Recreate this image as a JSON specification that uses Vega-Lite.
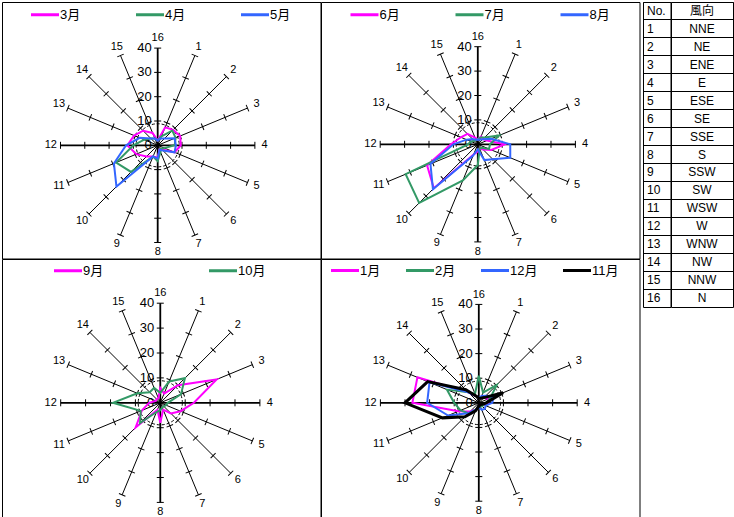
{
  "$schema": "https://vega.github.io/schema/vega-lite/v6.json",
  "padding": {"left": 1, "top": 1, "right": 0, "bottom": 0},
  "datasets": {
    "dirs": [
      {"dir": 1, "ticks": [10, 20, 30, 40]}, {"dir": 2, "ticks": [10, 20, 30, 40]},
      {"dir": 3, "ticks": [10, 20, 30, 40]}, {"dir": 4, "ticks": [10, 20, 30, 40]},
      {"dir": 5, "ticks": [10, 20, 30, 40]}, {"dir": 6, "ticks": [10, 20, 30, 40]},
      {"dir": 7, "ticks": [10, 20, 30, 40]}, {"dir": 8, "ticks": [10, 20, 30, 40]},
      {"dir": 9, "ticks": [10, 20, 30, 40]}, {"dir": 10, "ticks": [10, 20, 30, 40]},
      {"dir": 11, "ticks": [10, 20, 30, 40]}, {"dir": 12, "ticks": [10, 20, 30, 40]},
      {"dir": 13, "ticks": [10, 20, 30, 40]}, {"dir": 14, "ticks": [10, 20, 30, 40]},
      {"dir": 15, "ticks": [10, 20, 30, 40]}, {"dir": 16, "ticks": [10, 20, 30, 40]}
    ],
    "rings": [{"r": 0}, {"r": 10}, {"r": 20}, {"r": 30}, {"r": 40}],
    "wind": [
      {"panel": "A", "month": "3月", "dir": 1, "v": 8}, {"panel": "A", "month": "3月", "dir": 2, "v": 9},
      {"panel": "A", "month": "3月", "dir": 3, "v": 10}, {"panel": "A", "month": "3月", "dir": 4, "v": 9.5},
      {"panel": "A", "month": "3月", "dir": 5, "v": 7.5}, {"panel": "A", "month": "3月", "dir": 6, "v": 2.5},
      {"panel": "A", "month": "3月", "dir": 7, "v": 2}, {"panel": "A", "month": "3月", "dir": 8, "v": 5},
      {"panel": "A", "month": "3月", "dir": 9, "v": 5}, {"panel": "A", "month": "3月", "dir": 10, "v": 6.5},
      {"panel": "A", "month": "3月", "dir": 11, "v": 9.5}, {"panel": "A", "month": "3月", "dir": 12, "v": 12.5},
      {"panel": "A", "month": "3月", "dir": 13, "v": 10.5}, {"panel": "A", "month": "3月", "dir": 14, "v": 8.5},
      {"panel": "A", "month": "3月", "dir": 15, "v": 5.5}, {"panel": "A", "month": "3月", "dir": 16, "v": 2},
      {"panel": "A", "month": "4月", "dir": 1, "v": 4}, {"panel": "A", "month": "4月", "dir": 2, "v": 8.5},
      {"panel": "A", "month": "4月", "dir": 3, "v": 8}, {"panel": "A", "month": "4月", "dir": 4, "v": 7},
      {"panel": "A", "month": "4月", "dir": 5, "v": 3}, {"panel": "A", "month": "4月", "dir": 6, "v": 2},
      {"panel": "A", "month": "4月", "dir": 7, "v": 3}, {"panel": "A", "month": "4月", "dir": 8, "v": 6.5},
      {"panel": "A", "month": "4月", "dir": 9, "v": 5}, {"panel": "A", "month": "4月", "dir": 10, "v": 15.5},
      {"panel": "A", "month": "4月", "dir": 11, "v": 18.5}, {"panel": "A", "month": "4月", "dir": 12, "v": 10},
      {"panel": "A", "month": "4月", "dir": 13, "v": 6}, {"panel": "A", "month": "4月", "dir": 14, "v": 4},
      {"panel": "A", "month": "4月", "dir": 15, "v": 3}, {"panel": "A", "month": "4月", "dir": 16, "v": 2},
      {"panel": "A", "month": "5月", "dir": 1, "v": 3}, {"panel": "A", "month": "5月", "dir": 2, "v": 4},
      {"panel": "A", "month": "5月", "dir": 3, "v": 7.5}, {"panel": "A", "month": "5月", "dir": 4, "v": 7.5},
      {"panel": "A", "month": "5月", "dir": 5, "v": 7.5}, {"panel": "A", "month": "5月", "dir": 6, "v": 3},
      {"panel": "A", "month": "5月", "dir": 7, "v": 2}, {"panel": "A", "month": "5月", "dir": 8, "v": 5.5},
      {"panel": "A", "month": "5月", "dir": 9, "v": 5}, {"panel": "A", "month": "5月", "dir": 10, "v": 24},
      {"panel": "A", "month": "5月", "dir": 11, "v": 19.5}, {"panel": "A", "month": "5月", "dir": 12, "v": 13},
      {"panel": "A", "month": "5月", "dir": 13, "v": 8}, {"panel": "A", "month": "5月", "dir": 14, "v": 4},
      {"panel": "A", "month": "5月", "dir": 15, "v": 3}, {"panel": "A", "month": "5月", "dir": 16, "v": 2},
      {"panel": "B", "month": "6月", "dir": 1, "v": 3.5}, {"panel": "B", "month": "6月", "dir": 2, "v": 3},
      {"panel": "B", "month": "6月", "dir": 3, "v": 4}, {"panel": "B", "month": "6月", "dir": 4, "v": 11},
      {"panel": "B", "month": "6月", "dir": 5, "v": 6}, {"panel": "B", "month": "6月", "dir": 6, "v": 3},
      {"panel": "B", "month": "6月", "dir": 7, "v": 2}, {"panel": "B", "month": "6月", "dir": 8, "v": 3},
      {"panel": "B", "month": "6月", "dir": 9, "v": 4.5}, {"panel": "B", "month": "6月", "dir": 10, "v": 25.5},
      {"panel": "B", "month": "6月", "dir": 11, "v": 22.5}, {"panel": "B", "month": "6月", "dir": 12, "v": 11},
      {"panel": "B", "month": "6月", "dir": 13, "v": 7.5}, {"panel": "B", "month": "6月", "dir": 14, "v": 6},
      {"panel": "B", "month": "6月", "dir": 15, "v": 3}, {"panel": "B", "month": "6月", "dir": 16, "v": 2},
      {"panel": "B", "month": "7月", "dir": 1, "v": 3}, {"panel": "B", "month": "7月", "dir": 2, "v": 4},
      {"panel": "B", "month": "7月", "dir": 3, "v": 9.5}, {"panel": "B", "month": "7月", "dir": 4, "v": 5},
      {"panel": "B", "month": "7月", "dir": 5, "v": 5}, {"panel": "B", "month": "7月", "dir": 6, "v": 2},
      {"panel": "B", "month": "7月", "dir": 7, "v": 2}, {"panel": "B", "month": "7月", "dir": 8, "v": 8.5},
      {"panel": "B", "month": "7月", "dir": 9, "v": 16}, {"panel": "B", "month": "7月", "dir": 10, "v": 34},
      {"panel": "B", "month": "7月", "dir": 11, "v": 32}, {"panel": "B", "month": "7月", "dir": 12, "v": 4},
      {"panel": "B", "month": "7月", "dir": 13, "v": 3}, {"panel": "B", "month": "7月", "dir": 14, "v": 2},
      {"panel": "B", "month": "7月", "dir": 15, "v": 2}, {"panel": "B", "month": "7月", "dir": 16, "v": 2},
      {"panel": "B", "month": "8月", "dir": 1, "v": 2}, {"panel": "B", "month": "8月", "dir": 2, "v": 3},
      {"panel": "B", "month": "8月", "dir": 3, "v": 6}, {"panel": "B", "month": "8月", "dir": 4, "v": 13.3},
      {"panel": "B", "month": "8月", "dir": 5, "v": 14.4}, {"panel": "B", "month": "8月", "dir": 6, "v": 8.6},
      {"panel": "B", "month": "8月", "dir": 7, "v": 7}, {"panel": "B", "month": "8月", "dir": 8, "v": 2},
      {"panel": "B", "month": "8月", "dir": 9, "v": 5}, {"panel": "B", "month": "8月", "dir": 10, "v": 26},
      {"panel": "B", "month": "8月", "dir": 11, "v": 21}, {"panel": "B", "month": "8月", "dir": 12, "v": 10},
      {"panel": "B", "month": "8月", "dir": 13, "v": 5}, {"panel": "B", "month": "8月", "dir": 14, "v": 3},
      {"panel": "B", "month": "8月", "dir": 15, "v": 2}, {"panel": "B", "month": "8月", "dir": 16, "v": 2},
      {"panel": "C", "month": "9月", "dir": 1, "v": 4}, {"panel": "C", "month": "9月", "dir": 2, "v": 10},
      {"panel": "C", "month": "9月", "dir": 3, "v": 24.5}, {"panel": "C", "month": "9月", "dir": 4, "v": 13.5},
      {"panel": "C", "month": "9月", "dir": 5, "v": 8.8}, {"panel": "C", "month": "9月", "dir": 6, "v": 6},
      {"panel": "C", "month": "9月", "dir": 7, "v": 3}, {"panel": "C", "month": "9月", "dir": 8, "v": 8},
      {"panel": "C", "month": "9月", "dir": 9, "v": 3}, {"panel": "C", "month": "9月", "dir": 10, "v": 14},
      {"panel": "C", "month": "9月", "dir": 11, "v": 8}, {"panel": "C", "month": "9月", "dir": 12, "v": 4.5},
      {"panel": "C", "month": "9月", "dir": 13, "v": 2}, {"panel": "C", "month": "9月", "dir": 14, "v": 2},
      {"panel": "C", "month": "9月", "dir": 15, "v": 2}, {"panel": "C", "month": "9月", "dir": 16, "v": 6},
      {"panel": "C", "month": "10月", "dir": 1, "v": 9.3}, {"panel": "C", "month": "10月", "dir": 2, "v": 14},
      {"panel": "C", "month": "10月", "dir": 3, "v": 9}, {"panel": "C", "month": "10月", "dir": 4, "v": 3},
      {"panel": "C", "month": "10月", "dir": 5, "v": 2.5}, {"panel": "C", "month": "10月", "dir": 6, "v": 2},
      {"panel": "C", "month": "10月", "dir": 7, "v": 2}, {"panel": "C", "month": "10月", "dir": 8, "v": 3},
      {"panel": "C", "month": "10月", "dir": 9, "v": 4}, {"panel": "C", "month": "10月", "dir": 10, "v": 11.5},
      {"panel": "C", "month": "10月", "dir": 11, "v": 8.5}, {"panel": "C", "month": "10月", "dir": 12, "v": 19},
      {"panel": "C", "month": "10月", "dir": 13, "v": 10}, {"panel": "C", "month": "10月", "dir": 14, "v": 6},
      {"panel": "C", "month": "10月", "dir": 15, "v": 6.5}, {"panel": "C", "month": "10月", "dir": 16, "v": 4},
      {"panel": "D", "month": "1月", "dir": 1, "v": 2}, {"panel": "D", "month": "1月", "dir": 2, "v": 3},
      {"panel": "D", "month": "1月", "dir": 3, "v": 4}, {"panel": "D", "month": "1月", "dir": 4, "v": 4},
      {"panel": "D", "month": "1月", "dir": 5, "v": 2}, {"panel": "D", "month": "1月", "dir": 6, "v": 1},
      {"panel": "D", "month": "1月", "dir": 7, "v": 1}, {"panel": "D", "month": "1月", "dir": 8, "v": 2},
      {"panel": "D", "month": "1月", "dir": 9, "v": 3}, {"panel": "D", "month": "1月", "dir": 10, "v": 5},
      {"panel": "D", "month": "1月", "dir": 11, "v": 9}, {"panel": "D", "month": "1月", "dir": 12, "v": 27},
      {"panel": "D", "month": "1月", "dir": 13, "v": 27}, {"panel": "D", "month": "1月", "dir": 14, "v": 6},
      {"panel": "D", "month": "1月", "dir": 15, "v": 3}, {"panel": "D", "month": "1月", "dir": 16, "v": 2},
      {"panel": "D", "month": "2月", "dir": 1, "v": 4.5}, {"panel": "D", "month": "2月", "dir": 2, "v": 10.3},
      {"panel": "D", "month": "2月", "dir": 3, "v": 5}, {"panel": "D", "month": "2月", "dir": 4, "v": 3},
      {"panel": "D", "month": "2月", "dir": 5, "v": 2}, {"panel": "D", "month": "2月", "dir": 6, "v": 2},
      {"panel": "D", "month": "2月", "dir": 7, "v": 1.5}, {"panel": "D", "month": "2月", "dir": 8, "v": 2},
      {"panel": "D", "month": "2月", "dir": 9, "v": 3}, {"panel": "D", "month": "2月", "dir": 10, "v": 6},
      {"panel": "D", "month": "2月", "dir": 11, "v": 8}, {"panel": "D", "month": "2月", "dir": 12, "v": 10},
      {"panel": "D", "month": "2月", "dir": 13, "v": 14}, {"panel": "D", "month": "2月", "dir": 14, "v": 6},
      {"panel": "D", "month": "2月", "dir": 15, "v": 4}, {"panel": "D", "month": "2月", "dir": 16, "v": 11},
      {"panel": "D", "month": "12月", "dir": 1, "v": 3}, {"panel": "D", "month": "12月", "dir": 2, "v": 4},
      {"panel": "D", "month": "12月", "dir": 3, "v": 6.5}, {"panel": "D", "month": "12月", "dir": 4, "v": 5.5},
      {"panel": "D", "month": "12月", "dir": 5, "v": 3}, {"panel": "D", "month": "12月", "dir": 6, "v": 3.5},
      {"panel": "D", "month": "12月", "dir": 7, "v": 3}, {"panel": "D", "month": "12月", "dir": 8, "v": 2},
      {"panel": "D", "month": "12月", "dir": 9, "v": 3}, {"panel": "D", "month": "12月", "dir": 10, "v": 6},
      {"panel": "D", "month": "12月", "dir": 11, "v": 13.5}, {"panel": "D", "month": "12月", "dir": 12, "v": 21},
      {"panel": "D", "month": "12月", "dir": 13, "v": 21.7}, {"panel": "D", "month": "12月", "dir": 14, "v": 6},
      {"panel": "D", "month": "12月", "dir": 15, "v": 3}, {"panel": "D", "month": "12月", "dir": 16, "v": 2},
      {"panel": "D", "month": "11月", "dir": 1, "v": 2}, {"panel": "D", "month": "11月", "dir": 2, "v": 3},
      {"panel": "D", "month": "11月", "dir": 3, "v": 10.7}, {"panel": "D", "month": "11月", "dir": 4, "v": 3},
      {"panel": "D", "month": "11月", "dir": 5, "v": 1.5}, {"panel": "D", "month": "11月", "dir": 6, "v": 1},
      {"panel": "D", "month": "11月", "dir": 7, "v": 1}, {"panel": "D", "month": "11月", "dir": 8, "v": 1.5},
      {"panel": "D", "month": "11月", "dir": 9, "v": 3.5}, {"panel": "D", "month": "11月", "dir": 10, "v": 8},
      {"panel": "D", "month": "11月", "dir": 11, "v": 16}, {"panel": "D", "month": "11月", "dir": 12, "v": 30},
      {"panel": "D", "month": "11月", "dir": 13, "v": 22.5}, {"panel": "D", "month": "11月", "dir": 14, "v": 7.5},
      {"panel": "D", "month": "11月", "dir": 15, "v": 3}, {"panel": "D", "month": "11月", "dir": 16, "v": 2}
    ],
    "table": [
      {"row": 0, "no": "No.", "name": "風向"},
      {"row": 1, "no": "1", "name": "NNE"}, {"row": 2, "no": "2", "name": "NE"},
      {"row": 3, "no": "3", "name": "ENE"}, {"row": 4, "no": "4", "name": "E"},
      {"row": 5, "no": "5", "name": "ESE"}, {"row": 6, "no": "6", "name": "SE"},
      {"row": 7, "no": "7", "name": "SSE"}, {"row": 8, "no": "8", "name": "S"},
      {"row": 9, "no": "9", "name": "SSW"}, {"row": 10, "no": "10", "name": "SW"},
      {"row": 11, "no": "11", "name": "WSW"}, {"row": 12, "no": "12", "name": "W"},
      {"row": 13, "no": "13", "name": "WNW"}, {"row": 14, "no": "14", "name": "NW"},
      {"row": 15, "no": "15", "name": "NNW"}, {"row": 16, "no": "16", "name": "N"}
    ]
  },
  "hconcat": [
    {
      "vconcat": [
        {
          "hconcat": [
            {
              "width": 318.5,
              "height": 256.5,
              "encoding": {
                "x": {"field": "px", "type": "quantitative", "axis": null, "scale": {"domain": [-64.07, 67.0], "nice": false, "zero": false}},
                "y": {"field": "py", "type": "quantitative", "axis": null, "scale": {"domain": [-46.58, 58.97], "nice": false, "zero": false}}
              },
              "layer": [
                {"data": {"name": "rings"}, "transform": [{"filter": "datum.r == 0"}], "mark": {"type": "rule", "color": "black"}, "encoding": {"x": {"value": 0}, "x2": {"value": "width"}, "y": {"datum": 49.09}}},
                {"data": {"name": "dirs"}, "transform": [{"calculate": "40 * sin(datum.dir * PI / 8)", "as": "px"}, {"calculate": "40 * cos(datum.dir * PI / 8)", "as": "py"}], "mark": {"type": "rule", "color": "black"}, "encoding": {"x2": {"datum": 0}, "y2": {"datum": 0}, "strokeWidth": {"condition": {"test": "datum.dir % 4 == 0", "value": 1.8}, "value": 1}}},
                {"data": {"name": "dirs"}, "transform": [{"flatten": ["ticks"]}, {"calculate": "datum.ticks * sin(datum.dir * PI / 8)", "as": "px"}, {"calculate": "datum.ticks * cos(datum.dir * PI / 8)", "as": "py"}, {"calculate": "datum.dir * 22.5", "as": "ang"}], "mark": {"type": "point", "shape": "stroke", "size": 49, "color": "black", "filled": false, "opacity": 1, "strokeWidth": 1}, "encoding": {"angle": {"field": "ang", "type": "quantitative", "scale": null}}},
                {"data": {"name": "rings"}, "transform": [{"filter": "datum.r == 10"}, {"calculate": "0", "as": "px"}, {"calculate": "0", "as": "py"}], "mark": {"type": "point", "shape": "circle", "size": 1860, "color": "black", "filled": false, "opacity": 1, "strokeWidth": 1, "strokeDash": [3, 2]}},
                {"data": {"name": "dirs"}, "transform": [{"calculate": "44 * sin(datum.dir * PI / 8)", "as": "px"}, {"calculate": "44 * cos(datum.dir * PI / 8)", "as": "py"}], "mark": {"type": "text", "fontSize": 11, "align": "center", "baseline": "middle", "color": "black"}, "encoding": {"text": {"field": "dir"}}},
                {"data": {"name": "rings"}, "transform": [{"calculate": "0", "as": "px"}, {"calculate": "datum.r", "as": "py"}], "mark": {"type": "text", "fontSize": 13, "align": "right", "baseline": "middle", "dx": -6, "color": "black"}, "encoding": {"text": {"field": "r"}}},
                {
                  "data": {"name": "wind"},
                  "transform": [{"filter": "datum.panel == 'A'"}, {"calculate": "datum.v * sin(datum.dir * PI / 8)", "as": "px"}, {"calculate": "datum.v * cos(datum.dir * PI / 8)", "as": "py"}],
                  "mark": {"type": "line", "interpolate": "linear-closed", "strokeWidth": 2},
                  "encoding": {
                    "order": {"field": "dir", "type": "quantitative"},
                    "color": {"field": "month", "type": "nominal", "scale": {"domain": ["3月", "4月", "5月"], "range": ["#FF00FF", "#339966", "#3366FF"]}, "legend": {"title": null, "orient": "none", "symbolType": "M-2,0H2", "legendX": 34.5, "legendY": 4, "columns": 3, "columnPadding": 49}}
                  }
                }
              ]
            },
            {
              "width": 318.5,
              "height": 256.5,
              "encoding": {
                "x": {"field": "px", "type": "quantitative", "axis": null, "scale": {"domain": [-64.26, 66.27], "nice": false, "zero": false}},
                "y": {"field": "py", "type": "quantitative", "axis": null, "scale": {"domain": [-46.8, 58.32], "nice": false, "zero": false}}
              },
              "layer": [
                {"data": {"name": "rings"}, "transform": [{"filter": "datum.r == 0"}], "mark": {"type": "rule", "color": "black"}, "encoding": {"x": {"value": 0}, "x2": {"value": "width"}, "y": {"datum": 48.48}}},
                {"data": {"name": "dirs"}, "transform": [{"calculate": "40 * sin(datum.dir * PI / 8)", "as": "px"}, {"calculate": "40 * cos(datum.dir * PI / 8)", "as": "py"}], "mark": {"type": "rule", "color": "black"}, "encoding": {"x2": {"datum": 0}, "y2": {"datum": 0}, "strokeWidth": {"condition": {"test": "datum.dir % 4 == 0", "value": 1.8}, "value": 1}}},
                {"data": {"name": "dirs"}, "transform": [{"flatten": ["ticks"]}, {"calculate": "datum.ticks * sin(datum.dir * PI / 8)", "as": "px"}, {"calculate": "datum.ticks * cos(datum.dir * PI / 8)", "as": "py"}, {"calculate": "datum.dir * 22.5", "as": "ang"}], "mark": {"type": "point", "shape": "stroke", "size": 49, "color": "black", "filled": false, "opacity": 1, "strokeWidth": 1}, "encoding": {"angle": {"field": "ang", "type": "quantitative", "scale": null}}},
                {"data": {"name": "rings"}, "transform": [{"filter": "datum.r == 10"}, {"calculate": "0", "as": "px"}, {"calculate": "0", "as": "py"}], "mark": {"type": "point", "shape": "circle", "size": 1870, "color": "black", "filled": false, "opacity": 1, "strokeWidth": 1, "strokeDash": [3, 2]}},
                {"data": {"name": "dirs"}, "transform": [{"calculate": "44 * sin(datum.dir * PI / 8)", "as": "px"}, {"calculate": "44 * cos(datum.dir * PI / 8)", "as": "py"}], "mark": {"type": "text", "fontSize": 11, "align": "center", "baseline": "middle", "color": "black"}, "encoding": {"text": {"field": "dir"}}},
                {"data": {"name": "rings"}, "transform": [{"calculate": "0", "as": "px"}, {"calculate": "datum.r", "as": "py"}], "mark": {"type": "text", "fontSize": 13, "align": "right", "baseline": "middle", "dx": -6, "color": "black"}, "encoding": {"text": {"field": "r"}}},
                {
                  "data": {"name": "wind"},
                  "transform": [{"filter": "datum.panel == 'B'"}, {"calculate": "datum.v * sin(datum.dir * PI / 8)", "as": "px"}, {"calculate": "datum.v * cos(datum.dir * PI / 8)", "as": "py"}],
                  "mark": {"type": "line", "interpolate": "linear-closed", "strokeWidth": 2},
                  "encoding": {
                    "order": {"field": "dir", "type": "quantitative"},
                    "color": {"field": "month", "type": "nominal", "scale": {"domain": ["6月", "7月", "8月"], "range": ["#FF00FF", "#339966", "#3366FF"]}, "legend": {"title": null, "orient": "none", "symbolType": "M-2,0H2", "legendX": 35, "legendY": 4, "columns": 3, "columnPadding": 49}}
                  }
                }
              ]
            }
          ],
          "spacing": 0,
          "bounds": "flush",
          "resolve": {"scale": {"color": "independent"}, "legend": {"color": "independent"}}
        },
        {
          "hconcat": [
            {
              "width": 318.5,
              "height": 258,
              "encoding": {
                "x": {"field": "px", "type": "quantitative", "axis": null, "scale": {"domain": [-63.57, 64.34], "nice": false, "zero": false}},
                "y": {"field": "py", "type": "quantitative", "axis": null, "scale": {"domain": [-45.86, 57.75], "nice": false, "zero": false}}
              },
              "layer": [
                {"data": {"name": "rings"}, "transform": [{"filter": "datum.r == 0"}], "mark": {"type": "rule", "color": "black"}, "encoding": {"x": {"value": 0}, "x2": {"value": "width"}, "y": {"datum": 48.71}}},
                {"data": {"name": "dirs"}, "transform": [{"calculate": "40 * sin(datum.dir * PI / 8)", "as": "px"}, {"calculate": "40 * cos(datum.dir * PI / 8)", "as": "py"}], "mark": {"type": "rule", "color": "black"}, "encoding": {"x2": {"datum": 0}, "y2": {"datum": 0}, "strokeWidth": {"condition": {"test": "datum.dir % 4 == 0", "value": 1.8}, "value": 1}}},
                {"data": {"name": "dirs"}, "transform": [{"flatten": ["ticks"]}, {"calculate": "datum.ticks * sin(datum.dir * PI / 8)", "as": "px"}, {"calculate": "datum.ticks * cos(datum.dir * PI / 8)", "as": "py"}, {"calculate": "datum.dir * 22.5", "as": "ang"}], "mark": {"type": "point", "shape": "stroke", "size": 49, "color": "black", "filled": false, "opacity": 1, "strokeWidth": 1}, "encoding": {"angle": {"field": "ang", "type": "quantitative", "scale": null}}},
                {"data": {"name": "rings"}, "transform": [{"filter": "datum.r == 10"}, {"calculate": "0", "as": "px"}, {"calculate": "0", "as": "py"}], "mark": {"type": "point", "shape": "circle", "size": 1950, "color": "black", "filled": false, "opacity": 1, "strokeWidth": 1, "strokeDash": [3, 2]}},
                {"data": {"name": "dirs"}, "transform": [{"calculate": "44 * sin(datum.dir * PI / 8)", "as": "px"}, {"calculate": "44 * cos(datum.dir * PI / 8)", "as": "py"}], "mark": {"type": "text", "fontSize": 11, "align": "center", "baseline": "middle", "color": "black"}, "encoding": {"text": {"field": "dir"}}},
                {"data": {"name": "rings"}, "transform": [{"calculate": "0", "as": "px"}, {"calculate": "datum.r", "as": "py"}], "mark": {"type": "text", "fontSize": 13, "align": "right", "baseline": "middle", "dx": -6, "color": "black"}, "encoding": {"text": {"field": "r"}}},
                {
                  "data": {"name": "wind"},
                  "transform": [{"filter": "datum.panel == 'C'"}, {"calculate": "datum.v * sin(datum.dir * PI / 8)", "as": "px"}, {"calculate": "datum.v * cos(datum.dir * PI / 8)", "as": "py"}],
                  "mark": {"type": "line", "interpolate": "linear-closed", "strokeWidth": 2},
                  "encoding": {
                    "order": {"field": "dir", "type": "quantitative"},
                    "color": {"field": "month", "type": "nominal", "scale": {"domain": ["9月", "10月"], "range": ["#FF00FF", "#339966"]}, "legend": {"title": null, "orient": "none", "symbolType": "M-2,0H2", "legendX": 57.5, "legendY": 3, "columns": 2, "columnPadding": 92}}
                  }
                }
              ]
            },
            {
              "width": 318.5,
              "height": 258,
              "encoding": {
                "x": {"field": "px", "type": "quantitative", "axis": null, "scale": {"domain": [-64.15, 65.33], "nice": false, "zero": false}},
                "y": {"field": "py", "type": "quantitative", "axis": null, "scale": {"domain": [-46.42, 58.46], "nice": false, "zero": false}}
              },
              "layer": [
                {"data": {"name": "rings"}, "transform": [{"filter": "datum.r == 0"}], "mark": {"type": "rule", "color": "black"}, "encoding": {"x": {"value": 0}, "x2": {"value": "width"}, "y": {"datum": 49.31}}},
                {"data": {"name": "dirs"}, "transform": [{"calculate": "40 * sin(datum.dir * PI / 8)", "as": "px"}, {"calculate": "40 * cos(datum.dir * PI / 8)", "as": "py"}], "mark": {"type": "rule", "color": "black"}, "encoding": {"x2": {"datum": 0}, "y2": {"datum": 0}, "strokeWidth": {"condition": {"test": "datum.dir % 4 == 0", "value": 1.8}, "value": 1}}},
                {"data": {"name": "dirs"}, "transform": [{"flatten": ["ticks"]}, {"calculate": "datum.ticks * sin(datum.dir * PI / 8)", "as": "px"}, {"calculate": "datum.ticks * cos(datum.dir * PI / 8)", "as": "py"}, {"calculate": "datum.dir * 22.5", "as": "ang"}], "mark": {"type": "point", "shape": "stroke", "size": 49, "color": "black", "filled": false, "opacity": 1, "strokeWidth": 1}, "encoding": {"angle": {"field": "ang", "type": "quantitative", "scale": null}}},
                {"data": {"name": "rings"}, "transform": [{"filter": "datum.r == 10"}, {"calculate": "0", "as": "px"}, {"calculate": "0", "as": "py"}], "mark": {"type": "point", "shape": "circle", "size": 1900, "color": "black", "filled": false, "opacity": 1, "strokeWidth": 1, "strokeDash": [3, 2]}},
                {"data": {"name": "dirs"}, "transform": [{"calculate": "44 * sin(datum.dir * PI / 8)", "as": "px"}, {"calculate": "44 * cos(datum.dir * PI / 8)", "as": "py"}], "mark": {"type": "text", "fontSize": 11, "align": "center", "baseline": "middle", "color": "black"}, "encoding": {"text": {"field": "dir"}}},
                {"data": {"name": "rings"}, "transform": [{"calculate": "0", "as": "px"}, {"calculate": "datum.r", "as": "py"}], "mark": {"type": "text", "fontSize": 13, "align": "right", "baseline": "middle", "dx": -6, "color": "black"}, "encoding": {"text": {"field": "r"}}},
                {
                  "data": {"name": "wind"},
                  "transform": [{"filter": "datum.panel == 'D'"}, {"calculate": "datum.v * sin(datum.dir * PI / 8)", "as": "px"}, {"calculate": "datum.v * cos(datum.dir * PI / 8)", "as": "py"}],
                  "mark": {"type": "line", "interpolate": "linear-closed"},
                  "encoding": {
                    "order": {"field": "dir", "type": "quantitative"},
                    "strokeWidth": {"condition": {"test": "datum.month == '11月'", "value": 3}, "value": 2},
                    "color": {"field": "month", "type": "nominal", "scale": {"domain": ["1月", "2月", "12月", "11月"], "range": ["#FF00FF", "#339966", "#3366FF", "#000000"]}, "legend": {"title": null, "orient": "none", "symbolType": "M-2,0H2", "legendX": 15.5, "legendY": 3, "columns": 4, "columnPadding": 19, "gridAlign": "none"}}
                  }
                }
              ]
            }
          ],
          "spacing": 0,
          "bounds": "flush",
          "resolve": {"scale": {"color": "independent"}, "legend": {"color": "independent"}}
        }
      ],
      "spacing": -1,
      "resolve": {"scale": {"color": "independent"}, "legend": {"color": "independent"}}
    },
    {
      "hconcat": [
        {
          "width": 27.5,
          "height": 305,
          "data": {"name": "table"},
          "mark": {"type": "text", "align": "left", "baseline": "middle", "fontSize": 12, "color": "black"},
          "encoding": {
            "y": {"field": "row", "type": "ordinal", "scale": {"type": "band", "paddingInner": 0, "paddingOuter": 0}, "axis": {"grid": true, "gridColor": "black", "gridOpacity": 1, "gridWidth": 1, "bandPosition": 0, "labels": false, "ticks": false, "domain": false, "title": null}},
            "x": {"value": 4},
            "text": {"field": "no"}
          }
        },
        {
          "width": 62,
          "height": 305,
          "data": {"name": "table"},
          "mark": {"type": "text", "align": "center", "baseline": "middle", "fontSize": 12, "color": "black"},
          "encoding": {
            "y": {"field": "row", "type": "ordinal", "scale": {"type": "band", "paddingInner": 0, "paddingOuter": 0}, "axis": {"grid": true, "gridColor": "black", "gridOpacity": 1, "gridWidth": 1, "bandPosition": 0, "labels": false, "ticks": false, "domain": false, "title": null}},
            "x": {"value": 31},
            "text": {"field": "name"}
          }
        }
      ],
      "spacing": 0,
      "bounds": "flush"
    }
  ],
  "spacing": 2,
  "resolve": {"scale": {"color": "independent"}, "legend": {"color": "independent"}},
  "config": {
    "view": {"stroke": "black", "strokeWidth": 1},
    "font": "Liberation Sans, Noto Sans CJK JP",
    "text": {"font": "Liberation Sans, Noto Sans CJK JP"},
    "legend": {
      "labelFont": "Liberation Sans, Noto Sans CJK JP",
      "labelFontSize": 13,
      "labelColor": "black",
      "labelOffset": 6.5,
      "symbolSize": 196,
      "symbolStrokeWidth": 3,
      "padding": 0,
      "gridAlign": "all",
      "direction": "horizontal"
    }
  }
}
